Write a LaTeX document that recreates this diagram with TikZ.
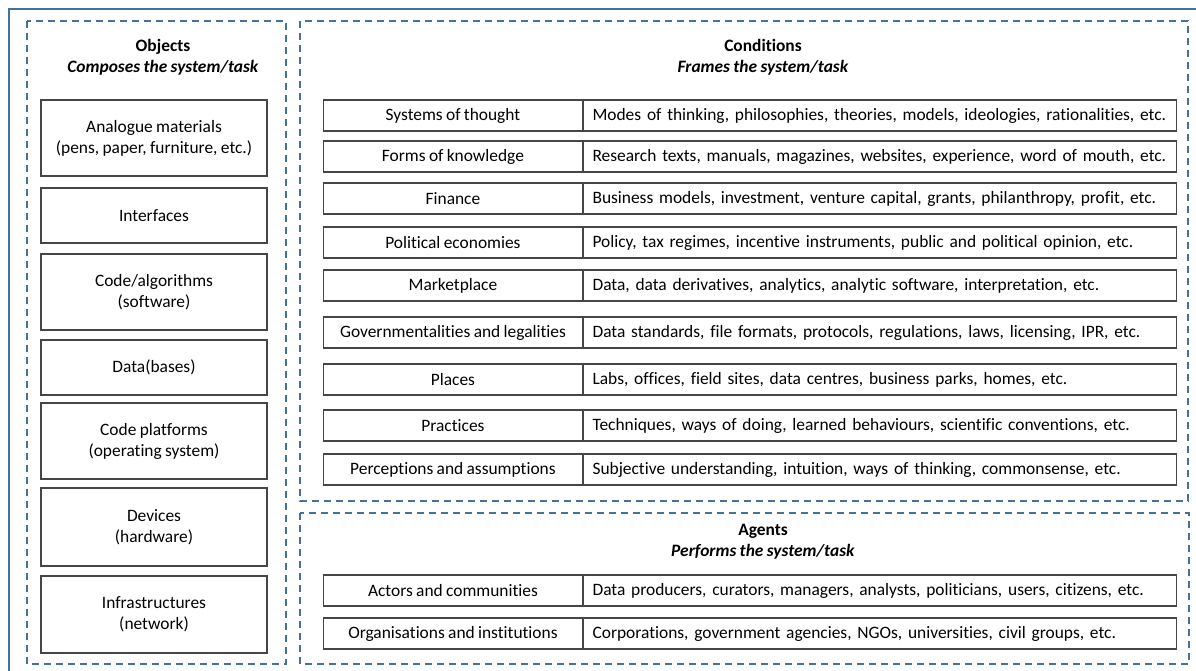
\documentclass[tikz,border=0pt]{standalone}
\usepackage{fontspec}
\usepackage{xcolor}
\usepackage{tikz}
\setmainfont{Carlito}[Ligatures=NoCommon, WordSpace=0.85]

\definecolor{frameblue}{RGB}{68,114,160}
\definecolor{cellgray}{RGB}{70,70,70}

\newcommand{\diagfont}{\fontsize{17.4}{21}\selectfont}

\tikzset{
  groupbox/.style={draw=frameblue, line width=1.6pt, dash pattern=on 7pt off 5pt},
  objbox/.style={draw=cellgray, line width=1.1pt, align=center, inner sep=0pt,
    minimum width=226pt},
  namecell/.style={draw=cellgray, line width=1.1pt, anchor=east, inner sep=0pt,
    minimum width=259pt, minimum height=31pt},
  desccell/.style={draw=cellgray, line width=1.1pt, anchor=west, align=left,
    inner xsep=9pt, inner ysep=0pt, text width=575pt, minimum height=31pt},
  heading/.style={align=center, font=\diagfont\bfseries}
}

\begin{document}
\begin{tikzpicture}[x=1pt, y=-1pt, font=\diagfont]
    \useasboundingbox (0, 0) rectangle (1196, 670);
    \clip (0, 0) rectangle (1196, 670);
    \fill[white] (0, 0) rectangle (1196, 670);

    % outer frame, runs off the right and bottom edges
    \draw[frameblue, line width=1.8pt] (9, 9) rectangle (1230, 700);

    % the three groups
    \draw[groupbox] (27, 21) rectangle (286, 664);
    \draw[groupbox] (300, 21) rectangle (1188, 501);
    \draw[groupbox] (300, 513) rectangle (1189, 664);

    \node[heading] (objtitle) at (163, 57) {Objects\\\textit{Composes the system/task}};
    \node[heading] (condtitle) at (763, 57) {Conditions\\\textit{Frames the system/task}};
    \node[heading] (agenttitle) at (763, 542) {Agents\\\textit{Performs the system/task}};

    % objects
    \node[objbox, minimum height=76pt] (analogue) at (154, 138) {Analogue materials\\(pens, paper, furniture, etc.)};
    \node[objbox, minimum height=55pt] (interfaces) at (154, 215.5) {Interfaces};
    \node[objbox, minimum height=76pt] (code) at (154, 292) {Code/algorithms\\(software)};
    \node[objbox, minimum height=55pt] (data) at (154, 367.5) {Data(bases)};
    \node[objbox, minimum height=76pt] (platforms) at (154, 441) {Code platforms\\(operating system)};
    \node[objbox, minimum height=78pt] (devices) at (154, 527) {Devices\\(hardware)};
    \node[objbox, minimum height=77pt] (infra) at (154, 614.5) {Infrastructures\\(network)};

    % conditions
    \foreach \y/\lbl/\desc [count=\i] in {
        115.5/{Systems of thought}/{Modes of thinking, philosophies, theories, models, ideologies, rationalities, etc.},
        156.5/{Forms of knowledge}/{Research texts, manuals, magazines, websites, experience, word of mouth, etc.},
        198.5/{Finance}/{Business models, investment, venture capital, grants, philanthropy, profit, etc.},
        242.5/{Political economies}/{Policy, tax regimes, incentive instruments, public and political opinion, etc.},
        285.5/{Marketplace}/{Data, data derivatives, analytics, analytic software, interpretation, etc.},
        332.5/{Governmentalities and legalities}/{Data standards, file formats, protocols, regulations, laws, licensing, IPR, etc.},
        379.5/{Places}/{Labs, offices, field sites, data centres, business parks, homes, etc.},
        425.5/{Practices}/{Techniques, ways of doing, learned behaviours, scientific conventions, etc.},
        469.5/{Perceptions and assumptions}/{Subjective understanding, intuition, ways of thinking, commonsense, etc.}} {
        \node[namecell] (condname\i) at (583, \y) {\lbl};
        \node[desccell] (conddesc\i) at (583, \y) {\desc};
    }

    % agents
    \foreach \y/\lbl/\desc [count=\i] in {
        590.5/{Actors and communities}/{Data producers, curators, managers, analysts, politicians, users, citizens, etc.},
        633.5/{Organisations and institutions}/{Corporations, government agencies, NGOs, universities, civil groups, etc.}} {
        \node[namecell] (agentname\i) at (583, \y) {\lbl};
        \node[desccell] (agentdesc\i) at (583, \y) {\desc};
    }
\end{tikzpicture}
\end{document}
